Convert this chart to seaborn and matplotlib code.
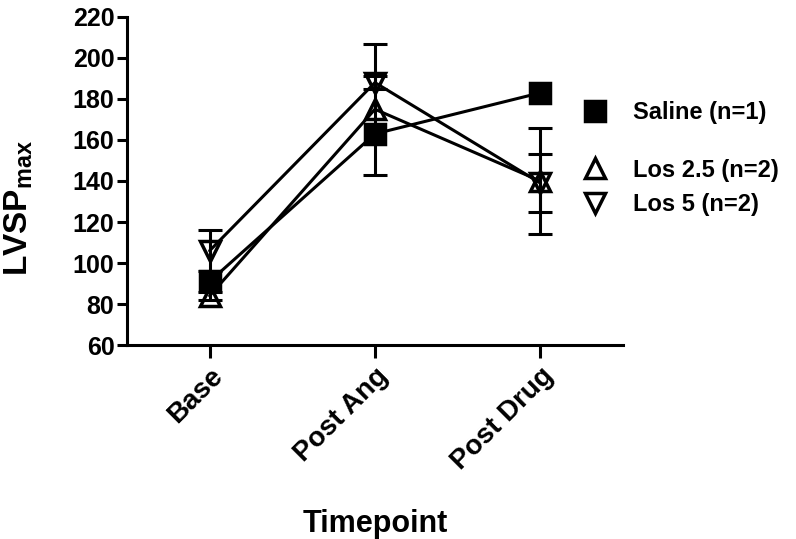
import numpy as np
import pandas as pd
import seaborn as sns
import matplotlib.pyplot as plt
from matplotlib.lines import Line2D

# values
timepoints = ["Base", "Post Ang", "Post Drug"]
groups = ["Saline (n=1)", "Los 2.5 (n=2)", "Los 5 (n=2)"]
saline_mean = [91, 163, 183]
los25_mean = [84, 175, 140]
los25_sem = [2, 32, 26]
los5_mean = [106, 188, 139]
los5_sem = [10, 3, 14]
markers = ["s", "^", "v"]

sns.set_style("ticks")
plt.rcParams['font.family'] = ['Liberation Sans', 'DejaVu Sans']
plt.rcParams['font.weight'] = 'bold'
plt.rcParams['mathtext.fontset'] = 'custom'
plt.rcParams['mathtext.rm'] = 'Liberation Sans:bold'
plt.rcParams['mathtext.bf'] = 'Liberation Sans:bold'
for k in ['text.color', 'axes.labelcolor', 'xtick.color', 'ytick.color', 'axes.edgecolor']:
    plt.rcParams[k] = 'black'

df = pd.DataFrame({
    "Timepoint": timepoints * 3,
    "LVSP": saline_mean + los25_mean + los5_mean,
    "Group": np.repeat(groups, 3),
})

fig = plt.figure(figsize=(7.96, 5.39), dpi=100)
ax = fig.add_axes([0.1595, 0.3599, 0.6231, 0.6086])

sns.pointplot(data=df, x="Timepoint", y="LVSP", hue="Group", order=timepoints,
              hue_order=groups, markers=markers, linestyles="-",
              palette=["black"] * 3, errorbar=None, legend=False, ax=ax,
              markersize=14, linewidth=2.2, markeredgewidth=2.5)

# open triangles for the losartan groups
for i, line in enumerate(ax.lines[:3]):
    line.set_markeredgewidth(2.5)
    if i > 0:
        line.set_markerfacecolor("none")

# SEM bars (saline n=1 has none)
x = np.arange(len(timepoints))
for m, e in [(los25_mean, los25_sem), (los5_mean, los5_sem)]:
    ax.errorbar(x, m, yerr=e, fmt="none", ecolor="black", elinewidth=2.2,
                capsize=8.5, capthick=2.2, zorder=1)

ax.set_xlim(-0.5, 2.5)
ax.set_ylim(60, 220)
ax.set_yticks(range(60, 221, 20))
sns.despine(ax=ax)
for s in ["left", "bottom"]:
    ax.spines[s].set_linewidth(2.2)
ax.tick_params(axis="y", direction="out", length=7, width=2.2, labelsize=18, pad=2)
ax.tick_params(axis="x", direction="out", length=9, width=2.2, labelsize=20, pad=4)
plt.setp(ax.get_xticklabels(), rotation=45, ha="right", rotation_mode="anchor",
         fontweight="bold")
plt.setp(ax.get_yticklabels(), fontweight="bold")

ax.set_ylabel(r"LVSP$_{\mathrm{max}}$", fontsize=24, fontweight="bold")
ax.yaxis.set_label_coords(-0.185, 0.418)
ax.set_xlabel("Timepoint", fontsize=22, fontweight="bold", va="top")
ax.xaxis.set_label_coords(0.5, -0.50)

# legend split into two blocks like the original
def handle(mk, fill):
    return Line2D([], [], color="black", linestyle="none", marker=mk,
                  markersize=14, markeredgewidth=2.5,
                  markerfacecolor="black" if fill else "none")

W, H = 796, 539
common = dict(frameon=False, handlelength=1.0, handletextpad=1.12,
              borderpad=0, borderaxespad=0, loc="center left",
              prop={"weight": "bold", "size": 17})
leg1 = fig.legend([handle("s", True)], [groups[0]],
                  bbox_to_anchor=(583 / W, 1 - 113 / H), **common)
leg2 = fig.legend([handle("^", False), handle("v", False)], groups[1:],
                  bbox_to_anchor=(583 / W, 1 - 187.5 / H), labelspacing=0.5,
                  **common)

fig.savefig("out.png", dpi=100)
